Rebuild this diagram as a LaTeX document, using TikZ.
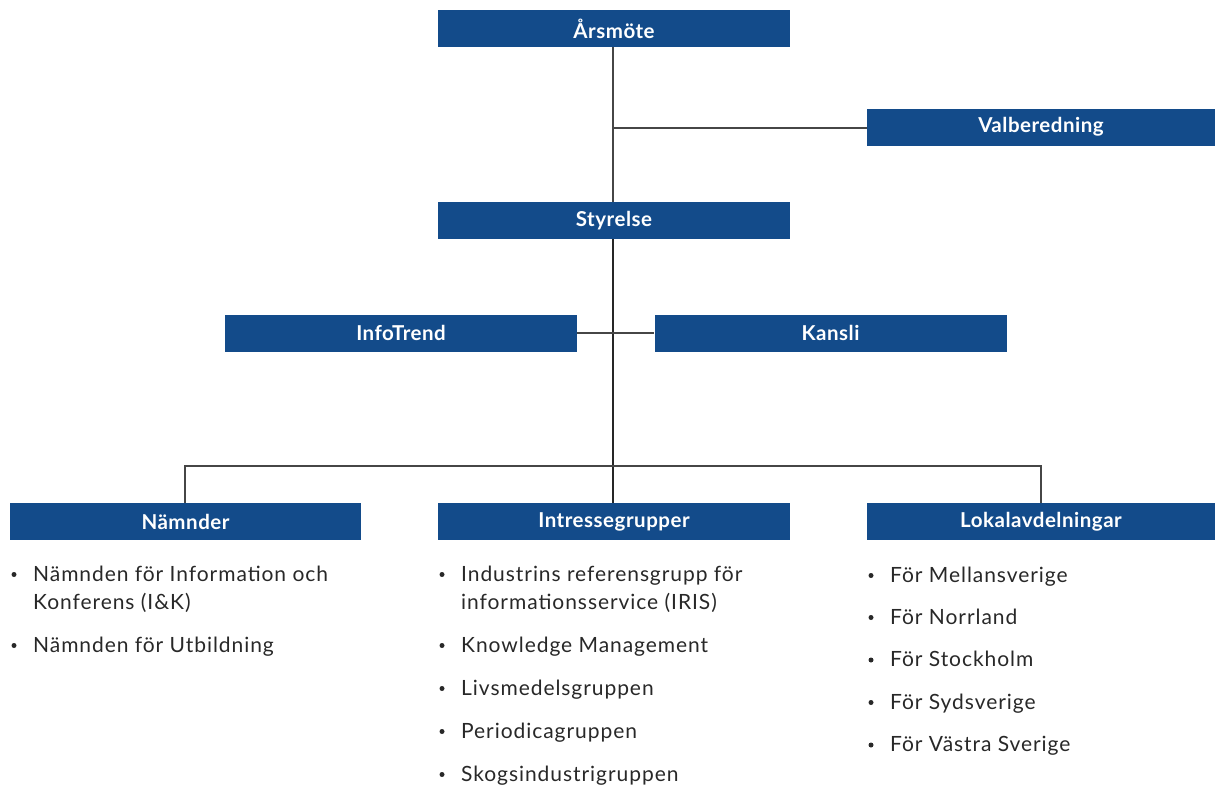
\documentclass[tikz,border=0pt]{standalone}
\usepackage{fontspec}
\setmainfont{Lato}
\newfontfamily\itemfont[LetterSpace=4.5]{Lato}
\newfontfamily\headfont[LetterSpace=2.5]{Lato}
\definecolor{boxblue}{RGB}{19,75,138}
\definecolor{txt}{RGB}{40,40,40}
\definecolor{thinline}{RGB}{70,70,70}
\begin{document}
\begin{tikzpicture}[x=1pt,y=-1pt,
  orgbox/.style={fill=boxblue,draw=none,minimum width=352pt,minimum height=37pt,inner sep=0pt,
    text=white,font=\headfont\fontsize{20.5}{24}\selectfont\bfseries},
  item/.style={anchor=base west,inner sep=0pt,text=txt,font=\itemfont\fontsize{21}{28}\selectfont,align=left},
  thin/.style={draw=thinline,line width=1.1pt},
  thick/.style={draw=black!85,line width=2pt}]
\useasboundingbox (0,0) rectangle (1215,785);
\node[orgbox] (ars) at (614,28.5) {Årsmöte};
\node[orgbox,minimum width=348pt] (val) at (1041,127) {Valberedning};
\node[orgbox] (sty) at (614,220.5) {Styrelse};
\node[orgbox] (info) at (401,333) {InfoTrend};
\node[orgbox] (kan) at (830.5,333) {Kansli};
\node[orgbox,minimum width=351pt] (nam) at (185.5,521.5) {Nämnder};
\node[orgbox] (int) at (614,521.5) {Intressegrupper};
\node[orgbox,minimum width=348pt] (lok) at (1041,521.5) {Lokalavdelningar};
\coordinate (jv) at (613,128);
\coordinate (jh) at (613,466);
\coordinate (jl) at (185,466);
\coordinate (jr) at (1041,466);
\draw[thin] (ars.south -| jv) -- (sty.north -| jv);
\draw[thin] (jv) -- (val.west |- jv);
\draw[thick] (sty.south -| jv) -- (int.north -| jv);
\draw[thin] (info.east) -- (kan.west);
\draw[thin] (nam.north -| jl) -- (jl) -- (jr) -- (lok.north -| jr);
% Nämnder items
\node[item] (n1) at (33,581) {Nämnden för Information och};
\node[item] (n1b) at (33,609) {Konferens (I\&K)};
\node[item] (n2) at (33,652) {Nämnden för Utbildning};
% Intressegrupper items
\node[item] (i1) at (461,581) {Industrins referensgrupp för};
\node[item] (i1b) at (461,609) {informationsservice (IRIS)};
\node[item] (i2) at (461,652) {Knowledge Management};
\node[item] (i3) at (461,695) {Livsmedelsgruppen};
\node[item] (i4) at (461,738) {Periodicagruppen};
\node[item] (i5) at (461,781) {Skogsindustrigruppen};
% Lokalavdelningar items
\node[item] (l1) at (890,582) {För Mellansverige};
\node[item] (l2) at (890,624) {För Norrland};
\node[item] (l3) at (890,666.5) {För Stockholm};
\node[item] (l4) at (890,709) {För Sydsverige};
\node[item] (l5) at (890,751.5) {För Västra Sverige};
\foreach \n in {n1,n2,i1,i2,i3,i4,i5,l1,l2,l3,l4,l5}
  \fill[txt] ([xshift=-19pt,yshift=6.5pt]\n.base west) circle (2.5pt);
\end{tikzpicture}
\end{document}
